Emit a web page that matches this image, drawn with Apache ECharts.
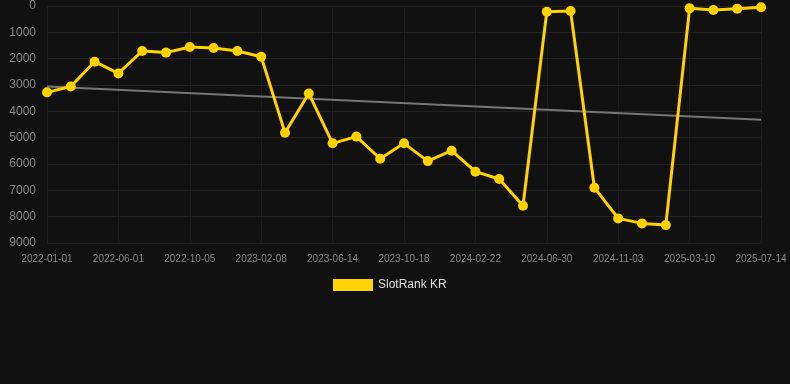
<!DOCTYPE html>
<html>
<head>
<meta charset="utf-8">
<script src="https://cdn.jsdelivr.net/npm/echarts@6/dist/echarts.min.js"></script>
<style>
  html, body { margin: 0; padding: 0; background: #111111; }
  #chart { width: 790px; height: 384px; }
</style>
</head>
<body>
<div id="chart"></div>
<script>
// dates of each rank sample (only every third one is labelled on the axis)
var rankDates = [
  '2022-01-01', '2022-02-20', '2022-04-11', '2022-06-01', '2022-07-13', '2022-08-24',
  '2022-10-05', '2022-11-16', '2022-12-28', '2023-02-08', '2023-03-22', '2023-05-03',
  '2023-06-14', '2023-07-26', '2023-09-06', '2023-10-18', '2023-11-29', '2024-01-10',
  '2024-02-22', '2024-04-04', '2024-05-17', '2024-06-30', '2024-08-11', '2024-09-22',
  '2024-11-03', '2024-12-15', '2025-01-26', '2025-03-10', '2025-04-21', '2025-06-02',
  '2025-07-14'
];
// SlotRank KR values (lower is better, axis inverted)
var rankValues = [
  3280, 3060, 2115, 2560, 1710, 1770, 1560, 1595, 1710, 1925,
  4810, 3320, 5215, 4960, 5800, 5215, 5890, 5495, 6290, 6570,
  7585, 215, 190, 6900, 8065, 8255, 8320, 90, 150, 100,
  50
];
// trend line: only start and end are known
var trendStart = 3060;
var trendEnd = 4320;

var trendValues = rankDates.map(function (d, i) {
  if (i === 0) return trendStart;
  if (i === rankDates.length - 1) return trendEnd;
  return null;
});

var chart = echarts.init(document.getElementById('chart'));

var option = {
  backgroundColor: '#111111',
  animation: false,
  grid: {
    left: 47,
    right: 29,
    top: 6,
    bottom: 141
  },
  legend: {
    bottom: 88,
    left: 328,
    itemWidth: 40,
    itemHeight: 12,
    itemGap: 10,
    icon: 'rect',
    data: ['SlotRank KR'],
    textStyle: { color: '#dddddd', fontSize: 12, fontFamily: 'Liberation Sans, Arial' }
  },
  xAxis: {
    type: 'category',
    boundaryGap: false,
    data: rankDates,
    axisLine: { show: false },
    axisTick: { show: false },
    axisLabel: {
      interval: 2,
      color: '#888888',
      fontSize: 10,
      margin: 11,
      fontFamily: 'Liberation Sans, Arial'
    },
    splitLine: {
      show: true,
      interval: 2,
      lineStyle: { color: '#1c1c1c', width: 1 }
    }
  },
  yAxis: {
    type: 'value',
    inverse: true,
    min: 0,
    max: 9000,
    interval: 1000,
    axisLine: { show: false },
    axisTick: { show: false },
    axisLabel: {
      color: '#8a8a8a',
      fontSize: 12,
      margin: 11,
      fontFamily: 'Liberation Sans, Arial',
      formatter: function (v) { return String(v); }
    },
    splitLine: {
      lineStyle: { color: '#222222', width: 1 }
    }
  },
  series: [
    {
      name: 'Trend',
      type: 'line',
      data: trendValues,
      connectNulls: true,
      showSymbol: false,
      symbol: 'none',
      lineStyle: { color: '#777777', width: 2 },
      z: 1
    },
    {
      name: 'SlotRank KR',
      type: 'line',
      data: rankValues,
      symbol: 'circle',
      symbolSize: 10,
      itemStyle: { color: '#ffd200' },
      lineStyle: { color: '#ffd200', width: 3 },
      z: 2
    }
  ]
};

chart.setOption(option);
</script>
</body>
</html>
